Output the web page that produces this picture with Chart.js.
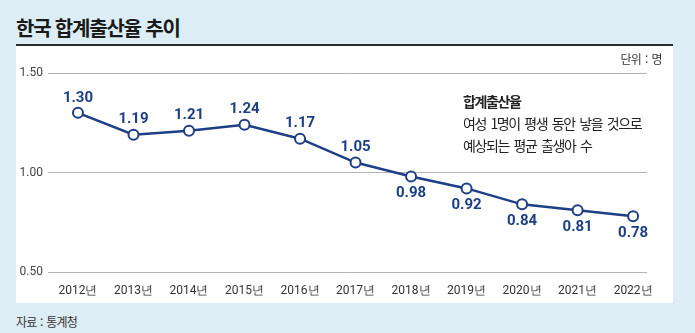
<!DOCTYPE html>
<html lang="ko">
<head>
<meta charset="utf-8">
<script src="https://cdn.jsdelivr.net/npm/chart.js@4/dist/chart.umd.min.js"></script>
<style>
	html, body { margin: 0; padding: 0; }
	body {
		width: 695px;
		height: 333px;
		overflow: hidden;
		position: relative;
		background: #dcedf5;
		font-family: "Noto Sans CJK KR", "Noto Sans", sans-serif;
		color: #222;
	}
	.title {
		position: absolute;
		left: 16px;
		top: 14px;
		font-size: 20px;
		font-weight: 700;
		letter-spacing: -1.2px;
		line-height: 28px;
		color: #1a1a1a;
	}
	.rule {
		position: absolute;
		left: 16px;
		top: 44px;
		width: 657px;
		height: 2px;
		background: #2b2b2b;
	}
	.panel {
		position: absolute;
		left: 16px;
		top: 46px;
		width: 657px;
		height: 257px;
		background: #fff;
	}
	.unit {
		position: absolute;
		right: 11px;
		top: 4px;
		font-size: 12px;
		letter-spacing: -0.6px;
		word-spacing: 1px;
		line-height: 18px;
		color: #333;
	}
	.note {
		position: absolute;
		left: 447px;
		top: 44px;
		font-size: 14px;
		letter-spacing: -1.4px;
		word-spacing: 2px;
		line-height: 22px;
		color: #222;
	}
	.note b { font-weight: 700; }
	.source {
		position: absolute;
		left: 16px;
		top: 313px;
		font-size: 12px;
		letter-spacing: -0.8px;
		word-spacing: 1px;
		line-height: 18px;
		color: #333;
	}
	canvas { position: absolute; left: 0; top: 0; }
</style>
</head>
<body>
<div class="title">한국 합계출산율 추이</div>
<div class="rule"></div>
<div class="panel">
	<canvas id="chart" width="657" height="257"></canvas>
	<div class="unit">단위 : 명</div>
	<div class="note"><b>합계출산율</b><br>여성 1명이 평생 동안 낳을 것으로<br>예상되는 평균 출생아 수</div>
</div>
<div class="source">자료 : 통계청</div>

<script>
	/* data */
	const years = [2012, 2013, 2014, 2015, 2016, 2017, 2018, 2019, 2020, 2021, 2022];
	const rates = [1.30, 1.19, 1.21, 1.24, 1.17, 1.05, 0.98, 0.92, 0.84, 0.81, 0.78];
	const yTicks = [0.5, 1.0, 1.5];
	// years from 2018 on carry their label under the point
	const labelBelowFrom = 2018;

	const navy = '#1d3f86';
	const numFont = '"Roboto", "Liberation Sans", sans-serif';

	const valueLabels = {
		id: 'valueLabels',
		afterDatasetsDraw(chart) {
			const { ctx } = chart;
			const meta = chart.getDatasetMeta(0);
			ctx.save();
			ctx.font = `bold 15px ${numFont}`;
			ctx.fillStyle = navy;
			ctx.textAlign = 'center';
			ctx.textBaseline = 'middle';
			meta.data.forEach((pt, i) => {
				const below = years[i] >= labelBelowFrom;
				ctx.fillText(rates[i].toFixed(2), pt.x, below ? pt.y + 17 : pt.y - 15);
			});
			ctx.restore();
		}
	};

	new Chart(document.getElementById('chart'), {
		type: 'line',
		data: {
			datasets: [{
				data: years.map((year, i) => ({ x: year, y: rates[i] })),
				borderColor: navy,
				borderWidth: 2.5,
				tension: 0,
				pointRadius: 5,
				pointBorderWidth: 2,
				pointBackgroundColor: '#fff',
				pointBorderColor: navy,
			}]
		},
		options: {
			responsive: false,
			animation: false,
			events: [],
			layout: {
				padding: { top: 27, left: 0, right: 26, bottom: 0 },
			},
			plugins: {
				legend: { display: false },
				tooltip: { enabled: false },
			},
			scales: {
				x: {
					type: 'linear',
					min: 2011.46,
					max: 2022.25,
					grid: { display: false },
					border: { display: false },
					afterBuildTicks: (scale) => {
						scale.ticks = years.map(value => ({ value }));
					},
					afterFit: (scale) => { scale.height = 31; },
					ticks: {
						autoSkip: false,
						maxRotation: 0,
						padding: 4,
						color: '#333',
						font: { size: 12, family: numFont },
						callback: (v) => `${v}년`,
					},
				},
				y: {
					min: 0.5,
					max: 1.5,
					border: { display: false },
					grid: { color: '#b3b3b3', lineWidth: 1, drawTicks: false },
					afterBuildTicks: (scale) => {
						scale.ticks = yTicks.map(value => ({ value }));
					},
					afterFit: (scale) => { scale.width = 32; },
					ticks: {
						padding: 5,
						color: '#444',
						font: { size: 12, family: numFont },
						callback: (v) => v.toFixed(2),
					},
				},
			},
		},
		plugins: [valueLabels],
	});
</script>
</body>
</html>
